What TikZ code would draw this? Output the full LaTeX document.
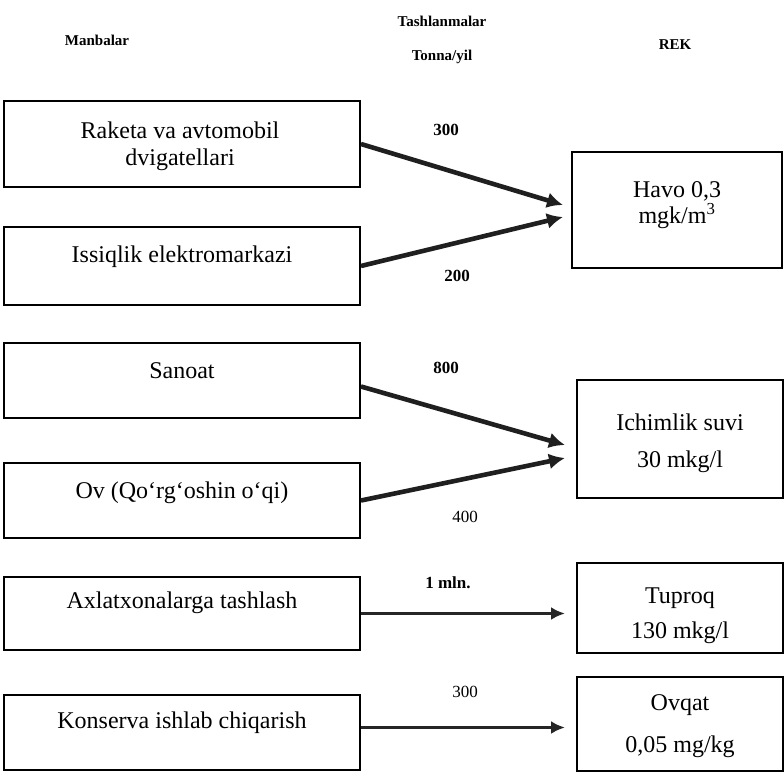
\documentclass[tikz,border=0pt]{standalone}
\usepackage{fontspec}
\setmainfont{Liberation Serif}
\usetikzlibrary{arrows.meta}
\begin{document}
\begin{tikzpicture}[x=1pt,y=-1pt,
  lbox/.style={draw, line width=1.9pt, inner sep=0pt, minimum width=356pt},
  rbox/.style={draw, line width=1.9pt, inner sep=0pt},
  txt/.style={font=\fontsize{24}{28}\selectfont, inner sep=0pt, text height=16pt, text depth=5pt},
  hdr/.style={font=\fontsize{15}{17}\selectfont\bfseries, inner sep=0pt},
  numb/.style={font=\fontsize{17}{19}\selectfont\bfseries, inner sep=0pt},
  numr/.style={font=\fontsize{17}{19}\selectfont, inner sep=0pt},
  arr/.style={line width=4.6pt, black!88, -{Latex[length=16pt,width=16pt]}},
  harr/.style={line width=3.4pt, black!85, -{Latex[length=14pt,width=13pt]}}]
\useasboundingbox (0,0) rectangle (784,773);

% headers
\node[hdr] (h1) at (97,40) {Manbalar};
\node[hdr] (h2) at (442,21) {Tashlanmalar};
\node[hdr] (h3) at (442,57) {Tonna/yil};
\node[hdr] (h4) at (675,45) {REK};

% left boxes
\node[lbox, minimum height=86pt] (b1) at (182,144) {};
\node[lbox, minimum height=78pt] (b2) at (182,266) {};
\node[lbox, minimum height=75pt] (b3) at (182,380.5) {};
\node[lbox, minimum height=75pt] (b4) at (182,500.5) {};
\node[lbox, minimum height=73pt] (b5) at (182,613.5) {};
\node[lbox, minimum height=75pt] (b6) at (182,732.5) {};

\node[txt] (b1a) at (180,133) {Raketa va avtomobil};
\node[txt] (b1b) at (180,160) {dvigatellari};
\node[txt] (b2a) at (182,257) {Issiqlik elektromarkazi};
\node[txt] (b3a) at (182,373) {Sanoat};
\node[txt] (b4a) at (182,493) {Ov (Qo‘rg‘oshin o‘qi)};
\node[txt] (b5a) at (182,603) {Axlatxonalarga tashlash};
\node[txt] (b6a) at (182,723) {Konserva ishlab chiqarish};

% right boxes
\node[rbox, minimum width=210pt, minimum height=116pt] (r1) at (677,210) {};
\node[rbox, minimum width=206pt, minimum height=118pt] (r2) at (680,439) {};
\node[rbox, minimum width=206pt, minimum height=90pt] (r3) at (680,608) {};
\node[rbox, minimum width=206pt, minimum height=94pt] (r4) at (680,724) {};

\node[txt] (r1a) at (677,192) {Havo 0,3};
\node[txt] (r1b) at (677,218) {mgk/m\textsuperscript{3}};
\node[txt] (r2a) at (680,425) {Ichimlik suvi};
\node[txt] (r2b) at (680,462) {30 mkg/l};
\node[txt] (r3a) at (680,598) {Tuproq};
\node[txt] (r3b) at (680,633) {130 mkg/l};
\node[txt] (r4a) at (680,705) {Ovqat};
\node[txt] (r4b) at (680,747) {0,05 mg/kg};

% arrow tips
\coordinate (t1) at (563,205);
\coordinate (t2) at (563,217);
\coordinate (t3) at (565,445);
\coordinate (t4) at (565,458);
\coordinate (t5) at (565,613.5);
\coordinate (t6) at (565,727.5);

\draw[arr] (b1.east) -- (t1);
\draw[arr] (b2.east) -- (t2);
\draw[arr] ([yshift=-6pt]b3.east) -- (t3);
\draw[arr] (b4.east) -- (t4);
\draw[harr] (b5.east) -- (t5);
\draw[harr] ([yshift=5pt]b6.east) -- (t6);

% amounts
\node[numb] (n1) at (446,130) {300};
\node[numb] (n2) at (457,276) {200};
\node[numb] (n3) at (446,368) {800};
\node[numr] (n4) at (465,517) {400};
\node[numb] (n5) at (448,583) {1 mln.};
\node[numr] (n6) at (465,692) {300};
\end{tikzpicture}
\end{document}
